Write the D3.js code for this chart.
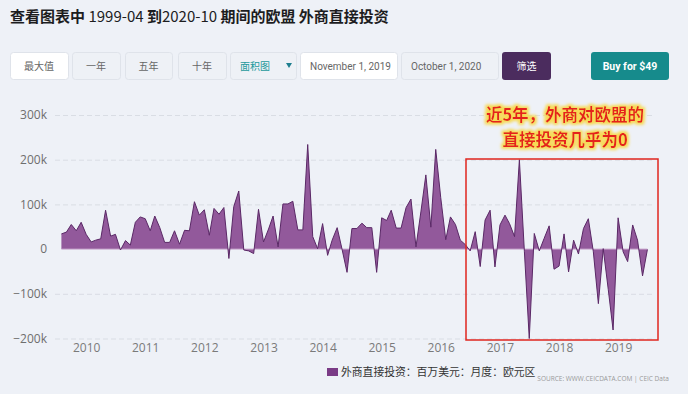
<!DOCTYPE html>
<html>
<head>
<meta charset="utf-8">
<script src="https://cdn.jsdelivr.net/npm/d3@7"></script>
<style>
  html, body { margin: 0; padding: 0; background: #eef1f7; }
  svg { display: block; }
</style>
</head>
<body>
<div id="app"></div>
<script>
`use strict`;

// monthly FDI, USD mn, euro area - first point Aug 2009
const startMonth = `2009-08-01`;

const fdi = [
  34000, 38000, 55000, 41000, 60000, 33000, 16000, 20000, 23000, 87000,
  29000, 33000, -2000, 19000, 9000, 60000, 72000, 68000, 41000, 74000,
  48000, 15000, 15000, 41000, 11000, 42000, 41000, 106000, 76000, 88000,
  31000, 91000, 78000, 93000, -21000, 95000, 130000, -2000, -4000, -10000,
  89000, 16000, 45000, 74000, 5000, 101000, 101000, 107000, 43000, 43000,
  234000, 28000, 1000, 57000, -14000, 20000, 48000, 0, -52000, 46000,
  46000, 58000, 48000, 48000, -52000, 70000, 64000, 87000, 47000, 47000,
  93000, 112000, 5000, 85000, 166000, 49000, 223000, 115000, 21000, 72000,
  55000, 20000, 10000, -4000, 39000, -39000, 65000, 87000, -40000, 54000,
  76000, 57000, 28000, 200000, -6000, -200000, 35000, -4000, 24000, 52000,
  -45000, -38000, 34000, -51000, 20000, -11000, 46000, 68000, -6000, -122000,
  1000, -90000, -181000, 70000, -6000, -28000, 54000, 20000, -60000, -1000
];

const yTicks = [-200000, -100000, 0, 100000, 200000, 300000];
const yearTicks = [2010, 2011, 2012, 2013, 2014, 2015, 2016, 2017, 2018, 2019];

const buttons = [`最大值`, `一年`, `五年`, `十年`];
const chartType = `面积图`;
const dateFrom = `November 1, 2019`;
const dateTo = `October 1, 2020`;
const legendLabel = `外商直接投资：百万美元：月度：欧元区`;
const sourceLabel = `SOURCE: WWW.CEICDATA.COM | CEIC Data`;
const note = [`近5年，外商对欧盟的`, `直接投资几乎为0`];

const W = 688, H = 394;
const CJK = `"Noto Sans CJK SC", "Noto Sans", sans-serif`;

let t0 = d3.timeParse(`%Y-%m-%d`)(startMonth);
let Data = fdi.map((v, i) => ({date: d3.timeMonth.offset(t0, i), v: v}));

let SVG = d3.select(`#app`).append(`svg`).attr(`width`, W).attr(`height`, H);

SVG.append(`rect`).attr(`width`, W).attr(`height`, H).attr(`fill`, `#eef1f7`);

/* title */

let title = SVG.append(`text`).attr(`x`, 10).attr(`y`, 22).attr(`font-family`, CJK).attr(`font-size`, 15).attr(`fill`, `#1d1d1f`);

[[`查看图表中 `, 700], [`1999-04 `, 400], [`到`, 700], [`2020-10 `, 400], [`期间的欧盟 外商直接投资`, 700]].forEach(p => {
  title.append(`tspan`).attr(`font-weight`, p[1]).text(p[0]);
});

/* toolbar */

let bar = SVG.append(`g`).attr(`font-family`, CJK);

let btnX = [[10, 58], [72, 48], [125, 47], [178, 48]];

buttons.forEach((b, i) => {
  bar.append(`rect`).attr(`x`, btnX[i][0] + .5).attr(`y`, 52.5).attr(`width`, btnX[i][1]).attr(`height`, 27).attr(`rx`, 3)
    .attr(`fill`, i === 0 ? `#fff` : `#eef1f6`).attr(`stroke`, `#dfe3ea`);
  bar.append(`text`).attr(`x`, btnX[i][0] + btnX[i][1] / 2).attr(`y`, 70).attr(`text-anchor`, `middle`)
    .attr(`font-size`, 10).attr(`fill`, `#666`).text(b);
});

bar.append(`rect`).attr(`x`, 230.5).attr(`y`, 52.5).attr(`width`, 66).attr(`height`, 27).attr(`rx`, 3).attr(`fill`, `#eef1f6`).attr(`stroke`, `#dfe3ea`);
bar.append(`text`).attr(`x`, 240).attr(`y`, 70).attr(`font-size`, 10).attr(`fill`, `#1e9a9c`).text(chartType);
bar.append(`path`).attr(`d`, `M286 63 L292 63 L289 68 Z`).attr(`fill`, `#1e7f8f`);

[[300, 97, dateFrom], [401, 97, dateTo]].forEach(d => {
  bar.append(`rect`).attr(`x`, d[0] + .5).attr(`y`, 52.5).attr(`width`, d[1]).attr(`height`, 27).attr(`rx`, 3)
    .attr(`fill`, d[0] === 300 ? `#fff` : `#eef1f6`).attr(`stroke`, `#dfe3ea`);
  bar.append(`text`).attr(`x`, d[0] + 10).attr(`y`, 70).attr(`font-family`, `Roboto, sans-serif`).attr(`font-size`, 10)
    .attr(`fill`, `#666`).text(d[2]);
});

bar.append(`rect`).attr(`x`, 502).attr(`y`, 52).attr(`width`, 49).attr(`height`, 28).attr(`rx`, 3).attr(`fill`, `#4b2c5e`);
bar.append(`text`).attr(`x`, 526.5).attr(`y`, 70).attr(`text-anchor`, `middle`).attr(`font-size`, 10).attr(`fill`, `#fff`).text(`筛选`);

bar.append(`rect`).attr(`x`, 591).attr(`y`, 52).attr(`width`, 78).attr(`height`, 28).attr(`rx`, 3).attr(`fill`, `#168b8c`);
bar.append(`text`).attr(`x`, 630).attr(`y`, 70).attr(`text-anchor`, `middle`).attr(`font-family`, `Roboto, sans-serif`)
  .attr(`font-size`, 10.5).attr(`font-weight`, 700).attr(`fill`, `#fff`).text(`Buy for $49`);

/* chart */

let x = d3.scaleTime().domain([Data[0].date, Data[Data.length - 1].date]).range([61.4, 647.4]);
let y = d3.scaleLinear().domain([-200000, 300000]).range([338.5, 115]);

let yAxis = SVG.append(`g`).attr(`transform`, `translate(55,0)`)
  .call(d3.axisLeft(y).tickValues(yTicks).tickSize(-600).tickPadding(8).tickFormat(d3.format(`~s`)));

yAxis.select(`.domain`).remove();
yAxis.selectAll(`.tick line`).attr(`stroke`, d => d === 0 ? `none` : `#d9dde4`).attr(`stroke-dasharray`, `5,3`);
yAxis.selectAll(`.tick text`).attr(`font-family`, `"Open Sans", sans-serif`).attr(`font-size`, 12).attr(`fill`, `#6e6e6e`);

let xAxis = SVG.append(`g`).attr(`transform`, `translate(0,338)`)
  .call(d3.axisBottom(x).tickValues(yearTicks.map(yr => new Date(yr, 0, 1))).tickSize(0).tickPadding(5).tickFormat(d3.timeFormat(`%Y`)));

xAxis.select(`.domain`).remove();
xAxis.selectAll(`.tick text`).attr(`font-family`, `"Open Sans", sans-serif`).attr(`font-size`, 12).attr(`fill`, `#7a7a7a`);

let area = d3.area().x(d => x(d.date)).y0(y(0)).y1(d => y(d.v));
let line = d3.line().x(d => x(d.date)).y(d => y(d.v));

SVG.append(`path`).datum(Data).attr(`d`, area).attr(`fill`, `#8c5096`).attr(`fill-opacity`, .95);

SVG.append(`line`).attr(`x1`, x(Data[0].date)).attr(`x2`, x(Data[Data.length - 1].date))
  .attr(`y1`, y(0)).attr(`y2`, y(0)).attr(`stroke`, `#c7a3cc`).attr(`stroke-width`, 1);

SVG.append(`path`).datum(Data).attr(`d`, line).attr(`fill`, `none`).attr(`stroke`, `#5a2866`).attr(`stroke-width`, 1);

/* annotation */

SVG.append(`rect`).attr(`x`, 466).attr(`y`, 159).attr(`width`, 192).attr(`height`, 181)
  .attr(`fill`, `none`).attr(`stroke`, `#e0261f`).attr(`stroke-width`, 1.5);

let glow = SVG.append(`defs`).append(`filter`).attr(`id`, `glow`)
  .attr(`x`, `-10%`).attr(`y`, `-20%`).attr(`width`, `120%`).attr(`height`, `140%`);

glow.append(`feMorphology`).attr(`in`, `SourceAlpha`).attr(`operator`, `dilate`).attr(`radius`, 2).attr(`result`, `fat`);
glow.append(`feFlood`).attr(`flood-color`, `#f7d955`).attr(`result`, `yel`);
glow.append(`feComposite`).attr(`in`, `yel`).attr(`in2`, `fat`).attr(`operator`, `in`).attr(`result`, `halo`);
glow.append(`feGaussianBlur`).attr(`in`, `halo`).attr(`stdDeviation`, 1.8).attr(`result`, `soft`);
let merge = glow.append(`feMerge`);
merge.append(`feMergeNode`).attr(`in`, `soft`);
merge.append(`feMergeNode`).attr(`in`, `SourceGraphic`);

let noteText = SVG.append(`text`).attr(`text-anchor`, `middle`).attr(`font-family`, CJK)
  .attr(`font-size`, 16.5).attr(`font-weight`, 700).attr(`fill`, `#e5231b`).attr(`filter`, `url(#glow)`);

note.forEach((s, i) => {
  noteText.append(`tspan`).attr(`x`, 565).attr(`y`, 121 + i * 24.5).text(s);
});

/* legend */

SVG.append(`rect`).attr(`x`, 327).attr(`y`, 368).attr(`width`, 11).attr(`height`, 8).attr(`fill`, `#7a3b86`);
let legendText = SVG.append(`text`).attr(`x`, 341).attr(`y`, 376).attr(`font-family`, CJK).attr(`font-size`, 10.8).attr(`fill`, `#333`).text(legendLabel);
let legendEnd = 341 + legendText.node().getComputedTextLength();
SVG.append(`text`).attr(`x`, Math.max(517, legendEnd + 2)).attr(`y`, 381).attr(`font-family`, `"Open Sans", sans-serif`).attr(`font-size`, 6.5).attr(`fill`, `#9a9a9a`).text(sourceLabel);
</script>
</body>
</html>
